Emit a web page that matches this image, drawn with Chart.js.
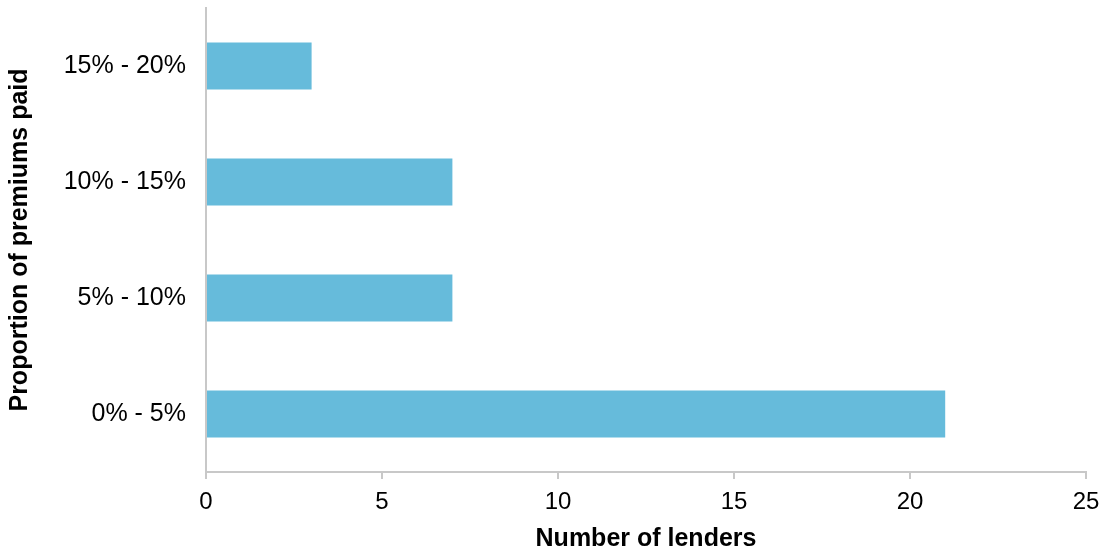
<!DOCTYPE html>
<html>
<head>
<meta charset="utf-8">
<script src="https://cdn.jsdelivr.net/npm/chart.js@4/dist/chart.umd.min.js"></script>
<style>
  html, body { margin: 0; padding: 0; background: #fff; }
  #wrap { width: 1099px; height: 548px; }
</style>
</head>
<body>
<div id="wrap"><canvas id="lenders"></canvas></div>
<script>
var bands = ["0% - 5%", "5% - 10%", "10% - 15%", "15% - 20%"];
var lenders = [21, 7, 7, 3];
var xTicks = [0, 5, 10, 15, 20, 25];

var axisGrey = '#c8c8c8';
var font = "'Liberation Sans', Arial, sans-serif";

var ctx = document.getElementById('lenders');
var chart = new Chart(ctx, {
	type: 'bar',
	data: {
		labels: bands,
		datasets: [{
			label: 'Number of lenders',
			data: lenders,
			backgroundColor: '#66bbdb',
			borderWidth: 0,
			categoryPercentage: 1,
			barPercentage: 0.405
		}]
	},
	options: {
		indexAxis: 'y',
		responsive: true,
		maintainAspectRatio: false,
		animation: false,
		layout: { padding: { top: 8, right: 13, left: 0, bottom: 0 } },
		plugins: {
			legend: { display: false },
			tooltip: { enabled: false }
		},
		scales: {
			x: {
				min: 0,
				max: 25,
				afterBuildTicks: function(axis){
					axis.ticks = xTicks.map(function(v){ return { value: v }; });
				},
				afterFit: function(axis){
					axis.height = 76;
					axis.paddingLeft = 0;
					axis.paddingRight = 0;
				},
				grid: { drawOnChartArea: false, drawTicks: true, tickLength: 7, color: axisGrey, lineWidth: 2 },
				border: { display: true, color: axisGrey, width: 2 },
				ticks: { color: '#000', padding: 9, font: { family: font, size: 24 } },
				title: {
					display: true,
					text: 'Number of lenders',
					color: '#000',
					padding: { top: 0, bottom: -6 },
					font: { family: font, size: 25, weight: 'bold' }
				}
			},
			y: {
				reverse: true,
				afterFit: function(axis){
					axis.width = 206;
					axis.paddingTop = 0;
					axis.paddingBottom = 0;
				},
				grid: { display: false },
				border: { display: true, color: axisGrey, width: 2 },
				ticks: { color: '#000', padding: 12, font: { family: font, size: 25 } },
				title: {
					display: true,
					text: 'Proportion of premiums paid',
					color: '#000',
					padding: { top: 5, bottom: 0 },
					font: { family: font, size: 25, weight: 'bold' }
				}
			}
		}
	}
});
</script>
</body>
</html>
